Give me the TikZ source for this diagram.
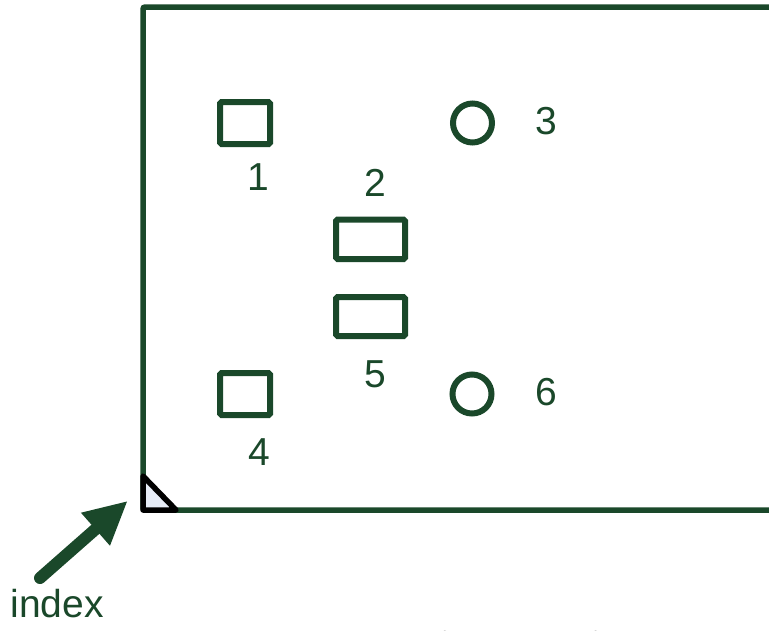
\documentclass[tikz,border=0pt]{standalone}
\usepackage{fontspec}
\setmainfont{Liberation Serif}
\newfontfamily\lblfont{Liberation Sans}
\usetikzlibrary{arrows.meta}
\definecolor{dgreen}{RGB}{26,72,42}
\definecolor{tfill}{RGB}{230,236,246}
\begin{document}
\begin{tikzpicture}[x=1pt,y=-1pt,
  frame/.style={draw=dgreen,line width=5.5pt,rounded corners=2pt},
  padsq/.style={draw=dgreen,line width=6pt,rounded corners=1.5pt},
  padcirc/.style={draw=dgreen,line width=6pt},
  lbl/.style={text=dgreen,font=\lblfont\fontsize{39}{39}\selectfont,inner sep=0pt},
  idxarrow/.style={draw=dgreen,fill=dgreen,line width=12pt,line cap=round,
     -{Triangle[length=42pt,width=44pt,line width=0pt]}},
  marker/.style={draw=black,fill=tfill,line width=5.5pt,line join=round}]
\useasboundingbox (0,0) rectangle (769,630);
% module frame
\coordinate (tr) at (780,7);
\coordinate (tl) at (143,7);
\coordinate (bl) at (143,510);
\coordinate (br) at (780,510);
\draw[frame] (tr) -- (tl) -- (bl) -- (br);
% index marker
\coordinate (m1) at (143,476);
\coordinate (m3) at (176,510);
\draw[marker] (m1) -- (bl) -- (m3) -- cycle;
% pads
\draw[padsq] (220,102) rectangle (270,144);
\draw[padsq] (336,219.5) rectangle (405,259);
\draw[padsq] (336,297) rectangle (405,336);
\draw[padsq] (220,373) rectangle (270,415);
\draw[padcirc] (472.5,123) circle (19.5);
\draw[padcirc] (472,394) circle (19.5);
% labels
\node[lbl] (l1) at (258,177.5) {1};
\node[lbl] (l2) at (375,182.5) {2};
\node[lbl] (l3) at (546,121.5) {3};
\node[lbl] (l4) at (259.5,452) {4};
\node[lbl] (l5) at (375,374) {5};
\node[lbl] (l6) at (546,392) {6};
% index arrow
\node[text=dgreen,font=\lblfont\fontsize{39}{39}\selectfont,inner sep=0pt] (idx) at (57,604) {index};
\coordinate (tail) at (40,578);
\coordinate (tip) at (127,501.5);
\draw[idxarrow] (tail) -- (tip);
% caption (cut by page edge, as in the reference)
\node[anchor=base west,inner sep=0pt,font=\fontsize{23}{23}\selectfont] (cap) at (143,647) {Fig.1\hspace{27pt}Terminal arrangement of the back side of the module};
\end{tikzpicture}
\end{document}
